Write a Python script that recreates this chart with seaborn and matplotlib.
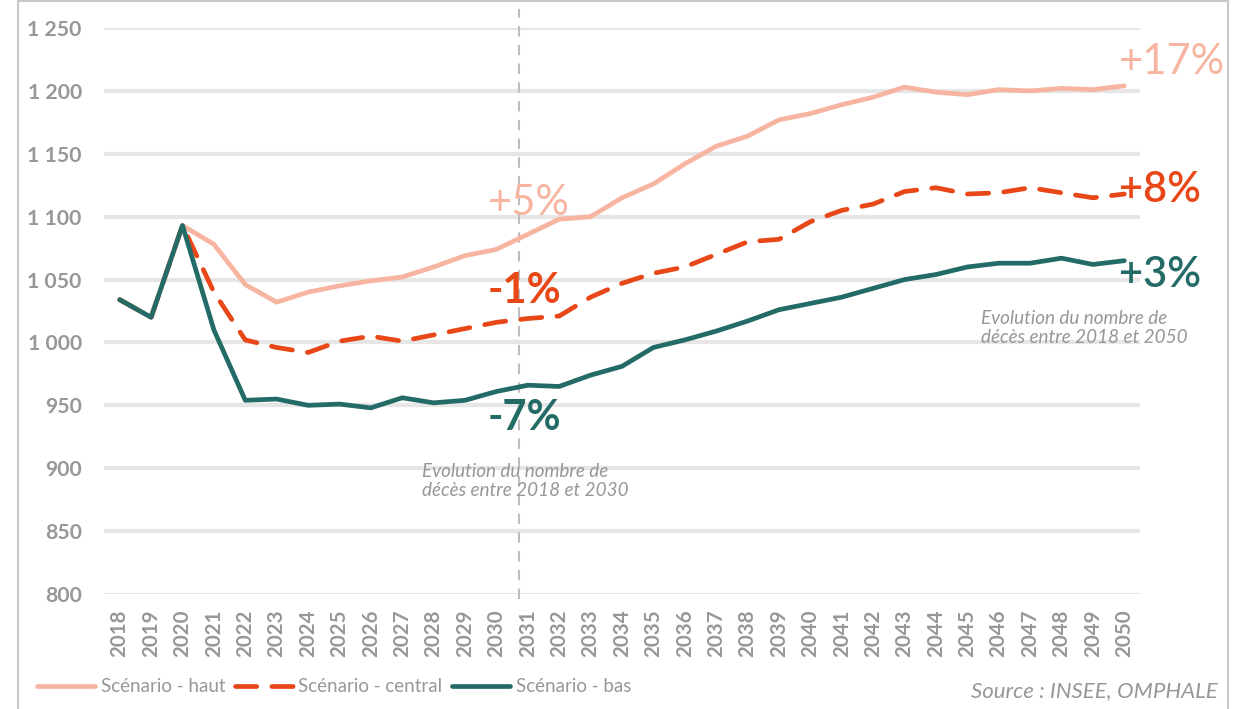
import numpy as np
import pandas as pd
import seaborn as sns
from matplotlib import pyplot as plt
from matplotlib.patches import Rectangle
from matplotlib.ticker import FuncFormatter
from matplotlib.lines import Line2D

years = list(range(2018, 2051))

# scénario haut (les 3 scénarios partagent 2018-2020)
haut = [1034, 1020, 1093, 1078, 1046, 1032, 1040, 1045, 1049, 1052, 1060,
        1069, 1074, 1086, 1098, 1100, 1115, 1126, 1142, 1156, 1164, 1177,
        1182, 1189, 1195, 1203, 1199, 1197, 1201, 1200, 1202, 1201, 1204]
central = [1034, 1020, 1093, 1040, 1002, 996, 992, 1001, 1005, 1001, 1006,
           1011, 1016, 1019, 1021, 1036, 1047, 1055, 1060, 1070, 1080, 1082,
           1096, 1105, 1110, 1120, 1123, 1118, 1119, 1123, 1119, 1115, 1118]
bas = [1034, 1020, 1093, 1010, 954, 955, 950, 951, 948, 956, 952,
       954, 961, 966, 965, 974, 981, 996, 1002, 1009, 1017, 1026,
       1031, 1036, 1043, 1050, 1054, 1060, 1063, 1063, 1067, 1062, 1065]

series_names = ["Scénario - haut", "Scénario - central", "Scénario - bas"]
labels_2030 = ["+5%", "-1%", "-7%"]
labels_2050 = ["+17%", "+8%", "+3%"]

C_HAUT = "#F7B4A0"
C_CENTRAL = "#E84718"
C_BAS = "#236B66"
GREY = "#979797"

sns.set_style("white")
plt.rcParams['font.family'] = ['Lato', 'DejaVu Sans']

fig = plt.figure(figsize=(12.34, 7.09), dpi=100)
ax = fig.add_axes([104 / 1234, 1 - 594 / 709, 1036 / 1234, 566 / 709])

df = pd.DataFrame({"annee": years, "haut": haut, "central": central, "bas": bas})

sns.lineplot(data=df, x="annee", y="haut", ax=ax, color=C_HAUT, lw=3.4,
             solid_capstyle="round", zorder=3)
sns.lineplot(data=df, x="annee", y="central", ax=ax, color=C_CENTRAL, lw=3.4,
             dashes=False, zorder=4)
ax.lines[-1].set_dashes([4.5, 3.2])
ax.lines[-1].set_dash_capstyle("round")
sns.lineplot(data=df, x="annee", y="bas", ax=ax, color=C_BAS, lw=3.4,
             solid_capstyle="round", zorder=5)

ax.set_xlim(2017.5, 2050.5)
ax.set_ylim(800, 1250)
ax.set_yticks(range(800, 1251, 50))
ax.set_xticks(years)
ax.yaxis.set_major_formatter(FuncFormatter(lambda v, p: f"{v:,.0f}".replace(",", " ")))
ax.set_xlabel("")
ax.set_ylabel("")

for v in range(850, 1251, 50):
    ax.axhline(v, color="#E6E6E6", lw=3, zorder=1)
ax.axhline(800, color="#E6E6E6", lw=1.6, zorder=1)
for s in ax.spines.values():
    s.set_visible(False)

ax.tick_params(axis="y", length=0, pad=16, labelsize=15.2, labelcolor=GREY)
ax.tick_params(axis="x", length=0, pad=11, labelsize=14.8, labelcolor=GREY,
               rotation=90)
for t in ax.get_xticklabels() + ax.get_yticklabels():
    t.set_fontweight("bold")

# ligne verticale 2030
ax.axvline(2030.72, ymin=-0.008, ymax=1.033, color="#BDBDBD", lw=1.5,
           dashes=(5, 4), clip_on=False, zorder=2)

# étiquettes de variation
ax.text(2029.73, 1111, labels_2030[0], color=C_HAUT, fontsize=30, va="center", zorder=6)
ax.text(2029.73, 1041, labels_2030[1], color=C_CENTRAL, fontsize=30, va="center",
        fontweight="bold", zorder=6)
ax.text(2029.73, 940, labels_2030[2], color=C_BAS, fontsize=30, va="center",
        fontweight="bold", zorder=6)
ax.text(2049.83, 1223, labels_2050[0], color=C_HAUT, fontsize=30, va="center",
        clip_on=False, zorder=6)
ax.text(2049.83, 1121, labels_2050[1], color=C_CENTRAL, fontsize=30, va="center",
        fontweight="semibold", clip_on=False, zorder=6)
ax.text(2049.83, 1054, labels_2050[2], color=C_BAS, fontsize=30, va="center",
        fontweight="semibold", clip_on=False, zorder=6)

ax.text(2027.63, 904, "Evolution du nombre de\ndécès entre 2018 et 2030",
        color=GREY, fontsize=13.6, style="italic", va="top", linespacing=1.15, zorder=6)
ax.text(2045.44, 1026, "Evolution du nombre de\ndécès entre 2018 et 2050",
        color=GREY, fontsize=13.6, style="italic", va="top", linespacing=1.15,
        clip_on=False, zorder=6)

handles = [Line2D([], [], color=C_HAUT, lw=3.4, solid_capstyle="round"),
           Line2D([], [], color=C_CENTRAL, lw=3.4, dashes=[4.5, 3.2],
                  dash_capstyle="round"),
           Line2D([], [], color=C_BAS, lw=3.4, solid_capstyle="round")]
leg = fig.legend(handles, series_names, loc="center left",
                 bbox_to_anchor=(37 / 1234, 1 - 687 / 709), ncol=3, frameon=False,
                 fontsize=13.5, handlelength=3.1, handletextpad=0.3,
                 columnspacing=0.5, borderaxespad=0, borderpad=0)
for t in leg.get_texts():
    t.set_color(GREY)

fig.text(1218 / 1234, 1 - 691 / 709, "Source : INSEE, OMPHALE", color=GREY,
         fontsize=16, style="italic", ha="right", va="center")

fig.patches.append(Rectangle((18 / 1234, -0.01), 1210 / 1234, 1.008,
                             transform=fig.transFigure, fill=False,
                             edgecolor="#C8C8C8", lw=1.5))

fig.savefig("out.png", dpi=100)
